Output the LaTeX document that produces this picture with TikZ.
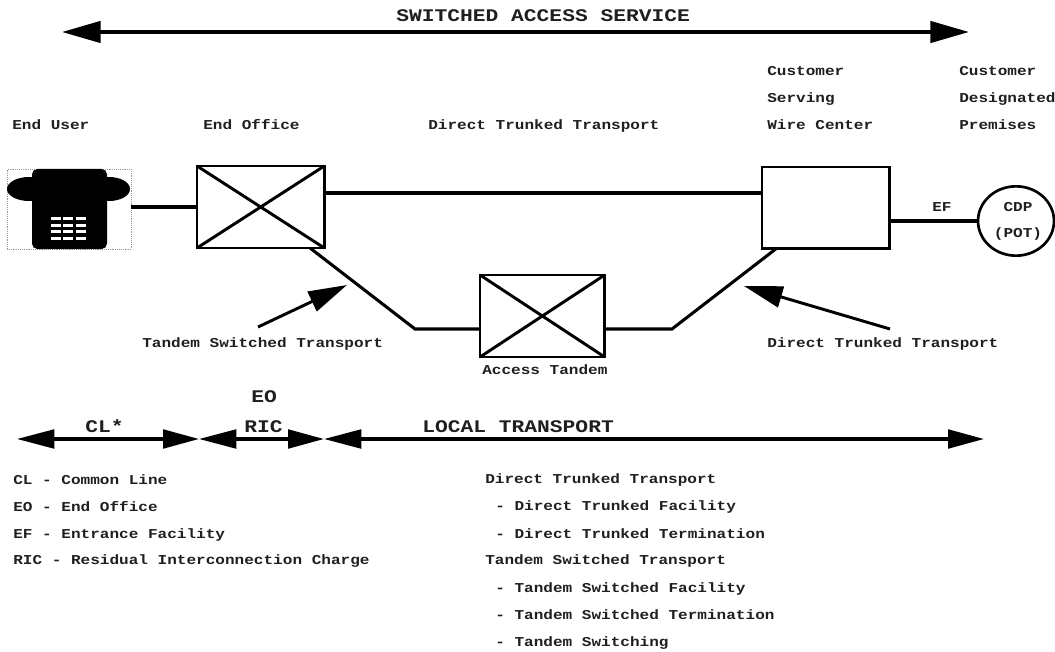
\documentclass[tikz,border=0pt]{standalone}
\usepackage{fontspec}
\setmainfont{Liberation Mono}
\newfontfamily\labf[FakeStretch=1.18]{Liberation Mono}
\newfontfamily\bigf[FakeStretch=1.2]{Liberation Mono}
\usetikzlibrary{arrows.meta,shapes.geometric}
\definecolor{ink}{gray}{0.12}
\tikzset{
 lab/.style={font=\labf\fontsize{10.2}{12}\selectfont\bfseries,anchor=base west,inner sep=0pt,text=ink},
 biglab/.style={font=\bigf\fontsize{13.3}{15}\selectfont\bfseries,anchor=base west,inner sep=0pt,text=ink},
 boxn/.style={draw,line width=2.2pt,inner sep=0pt,outer sep=0pt,anchor=north west},
 wire/.style={line width=2.3pt},
 cross/.style={line width=2.2pt},
 span/.style={line width=2.6pt,{Triangle[length=29pt,width=16pt]}-{Triangle[length=29pt,width=16pt]}},
 spanb/.style={line width=2.4pt,{Triangle[length=28pt,width=14pt]}-{Triangle[length=27pt,width=14pt]}},
 pointer/.style={line width=2.2pt,-{Triangle[length=29pt,width=16pt]}},
}
\begin{document}
\begin{tikzpicture}[x=0.75pt,y=-0.75pt]
\useasboundingbox (0,0) rectangle (1055,652);
% top span
\coordinate (topl) at (62,32);
\coordinate (topr) at (969,32);
\draw[span] (topl) -- (topr);
\node[biglab] (ttop) at (396,22) {SWITCHED ACCESS SERVICE};
% headings
\node[lab] (hu) at (12,130) {End User};
\node[lab] (ho) at (203,130) {End Office};
\node[lab] (hd) at (428,130) {Direct Trunked Transport};
\node[lab] (hc1) at (767,76) {Customer};
\node[lab] (hc2) at (767,103) {Serving};
\node[lab] (hc3) at (767,130) {Wire Center};
\node[lab] (hp1) at (959,76) {Customer};
\node[lab] (hp2) at (959,103) {Designated};
\node[lab] (hp3) at (959,130) {Premises};
% phone
\node[draw=black!40,densely dotted,line width=0.4pt,inner sep=0pt,outer sep=0pt,minimum width=93pt,minimum height=60pt,anchor=north west] (phone) at (7,169) {};
\fill[black,rounded corners=4pt] (32,169) rectangle (107,249);
\fill[black] (29,189) ellipse [x radius=22,y radius=12];
\fill[black] (109,189) ellipse [x radius=21,y radius=12];
\foreach \yy in {217,224,230,237}
 \foreach \xx in {51,63,76}
  \fill[white] (\xx,\yy) rectangle ++(10,3);
% boxes
\node[boxn,minimum width=95.5pt,minimum height=61.5pt] (eo) at (197,166) {};
\draw[cross] (eo.north west) -- (eo.south east) (eo.north east) -- (eo.south west);
\node[boxn,minimum width=95.5pt,minimum height=61pt] (cs) at (762,167) {};
\node[boxn,minimum width=93.5pt,minimum height=61.5pt] (at) at (480,275) {};
\draw[cross] (at.north west) -- (at.south east) (at.north east) -- (at.south west);
\node[draw,line width=2pt,ellipse,inner sep=0pt,outer sep=0pt,minimum width=57pt,minimum height=52pt] (cdp) at (1016,221) {};
\node[lab,anchor=base] (cdp1) at (1018,211) {CDP};
\node[lab,anchor=base] (cdp2) at (1018,238) {(POT)};
\node[lab] (ef) at (932,211) {EF};
% wires
\draw[wire] (phone.east |- eo.west) -- (eo.west);
\coordinate (t1) at (0,193);
\draw[wire] (eo.east |- t1) -- (cs.west |- t1);
\draw[wire] (cs.east |- cdp.west) -- (cdp.west);
\coordinate (j1) at (415,329);
\coordinate (j2) at (672,329);
\coordinate (eb) at (310,248);
\coordinate (cb) at (777,248);
\draw[wire] (eb) -- (j1) -- (at.west |- j1);
\draw[wire] (at.east |- j2) -- (j2) -- (cb);
% pointers
\coordinate (p1s) at (258,327);
\coordinate (p1e) at (347,285);
\coordinate (p2s) at (890,329);
\coordinate (p2e) at (744,286);
\draw[pointer] (p1s) -- (p1e);
\draw[pointer] (p2s) -- (p2e);
\node[lab] (tst) at (142,347) {Tandem Switched Transport};
\node[lab] (dtt) at (767,347) {Direct Trunked Transport};
\node[lab] (atl) at (482,374) {Access Tandem};
% bottom spans
\coordinate (a0) at (17,439);
\coordinate (a1) at (199,439);
\coordinate (a2) at (324,439);
\coordinate (a3) at (984,439);
\draw[spanb] (a0) -- (a1);
\draw[spanb] (a1) -- (a2);
\draw[spanb] (a2) -- (a3);
\node[biglab] (cl) at (85,432) {CL*};
\node[biglab] (eol) at (251,402) {EO};
\node[biglab] (ric) at (244,432) {RIC};
\node[biglab] (lt) at (422,432) {LOCAL TRANSPORT};
% legend
\node[lab] (l1) at (13,484) {CL - Common Line};
\node[lab] (l2) at (13,511) {EO - End Office};
\node[lab] (l3) at (13,538) {EF - Entrance Facility};
\node[lab] (l4) at (13,564) {RIC - Residual Interconnection Charge};
\node[lab] (r1) at (485,483) {Direct Trunked Transport};
\node[lab] (r2) at (495,510) {- Direct Trunked Facility};
\node[lab] (r3) at (495,538) {- Direct Trunked Termination};
\node[lab] (r4) at (485,564) {Tandem Switched Transport};
\node[lab] (r5) at (495,592) {- Tandem Switched Facility};
\node[lab] (r6) at (495,619) {- Tandem Switched Termination};
\node[lab] (r7) at (495,646) {- Tandem Switching};
\end{tikzpicture}
\end{document}
